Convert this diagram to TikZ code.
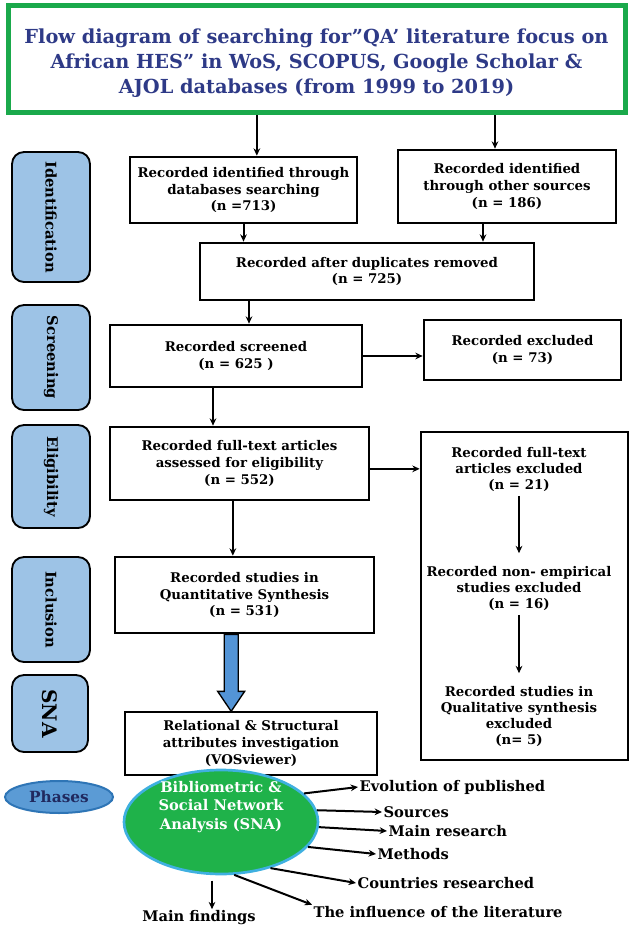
\documentclass[tikz,border=0pt]{standalone}
\usepackage{fontspec}
\setmainfont{DejaVu Serif}
\usetikzlibrary{arrows.meta,positioning,shapes.geometric,calc}
\definecolor{titlegreen}{HTML}{1AA94B}
\definecolor{titlenavy}{HTML}{2E3A87}
\definecolor{phaseblue}{HTML}{9DC3E6}
\definecolor{phasedark}{HTML}{5B9BD5}
\definecolor{phaseedge}{HTML}{2E75B6}
\definecolor{snagreen}{HTML}{1FB24A}
\definecolor{snaedge}{HTML}{3FB0E0}
\definecolor{fatblue}{HTML}{5394D6}

\begin{document}
\begin{tikzpicture}[x=0.75pt,y=-0.75pt,
  box/.style={draw, rectangle, line width=2pt, fill=white, align=center,
              font=\fontsize{10}{12.5}\selectfont\bfseries, inner sep=2pt},
  side/.style={draw, rectangle, rounded corners=9pt, line width=1.4pt,
               fill=phaseblue, rotate=-90, minimum height=58.5pt,
               font=\fontsize{11}{12}\selectfont\bfseries},
  outtxt/.style={anchor=west, inner sep=1pt,
                 font=\fontsize{11}{13}\selectfont\bfseries},
  arr/.style={-{Stealth[length=5.5pt,width=5pt]}, line width=1.5pt},
  fatarr/.style={draw=black, line width=1pt, fill=fatblue, line join=miter}
]
  \useasboundingbox (0,0) rectangle (632,929);

  %% Title
  \node[draw=titlegreen, line width=3.75pt, fill=white,
        minimum width=462.75pt, minimum height=80.25pt] (title) at (316.5,59) {};
  \node[align=center, text=titlenavy,
        font=\fontsize{14.5}{19}\selectfont\bfseries] (titletxt) at (316.5,63)
    {Flow diagram of searching for”QA’ literature focus on\\
     African HES” in WoS, SCOPUS, Google Scholar \&\\
     AJOL databases (from 1999 to 2019)};

  %% Phase labels
  \node[side, minimum width=97.5pt]  (ident)  at (51,217)   {Identification};
  \node[side, minimum width=78.75pt] (screen) at (51,357.5) {Screening};
  \node[side, minimum width=77.25pt] (elig)   at (51,476.5) {Eligibility};
  \node[side, minimum width=78.75pt] (incl)   at (51,609.5) {Inclusion};
  \node[side, minimum width=57.75pt, minimum height=57pt,
        font=\fontsize{15}{16}\selectfont\bfseries] (snaside) at (50,713.5) {SNA};
  \node[ellipse, draw=phaseedge, line width=1.5pt, fill=phasedark,
        minimum width=81pt, minimum height=24pt, text=titlenavy!70!black,
        font=\fontsize{11.5}{13}\selectfont\bfseries] (phases) at (59,797) {Phases};

  %% Identification
  \node[box, minimum width=170.25pt, minimum height=49.5pt] (db) at (243.5,190)
    {Recorded identified through\\databases searching\\(n =713)};
  \node[box, minimum width=163.5pt, minimum height=54.75pt] (other) at (507,186.5)
    {Recorded identified\\through other sources\\(n = 186)};
  \node[box, minimum width=250.5pt, minimum height=42.75pt] (dup) at (367,271.5)
    {Recorded after duplicates removed\\(n = 725)};

  %% Screening
  \node[box, minimum width=189pt, minimum height=46.5pt] (scr) at (236,356)
    {Recorded screened\\(n = 625 )};
  \node[box, minimum width=147.75pt, minimum height=45pt] (excl) at (522.5,350)
    {Recorded excluded\\(n = 73)};

  %% Eligibility
  \node[box, minimum width=194.25pt, minimum height=54.75pt] (full) at (239.5,463.5)
    {Recorded full-text articles\\assessed for eligibility\\(n = 552)};
  \node[box, minimum width=155.25pt, minimum height=246pt] (rbox) at (524.5,596) {};
  \node[align=center, font=\fontsize{10}{12}\selectfont\bfseries] (rb1) at (519,469)
    {Recorded full-text\\articles excluded\\(n = 21)};
  \node[align=center, font=\fontsize{10}{12}\selectfont\bfseries] (rb2) at (519,588)
    {Recorded non- empirical\\studies excluded\\(n = 16)};
  \node[align=center, font=\fontsize{10}{12}\selectfont\bfseries] (rb3) at (519,716)
    {Recorded studies in\\Qualitative synthesis\\excluded\\(n= 5)};

  %% Inclusion
  \node[box, minimum width=194.25pt, minimum height=57pt] (quant) at (244.5,595)
    {Recorded studies in\\Quantitative Synthesis\\(n = 531)};

  %% SNA
  \node[box, minimum width=189pt, minimum height=47.25pt] (vos) at (251,743.5)
    {Relational \& Structural\\attributes investigation\\(VOSviewer)};
  \node[ellipse, draw=snaedge, line width=2pt, fill=snagreen,
        minimum width=145.5pt, minimum height=78pt] (bsna) at (221,822) {};
  \node[align=center, text=white, font=\fontsize{11}{14}\selectfont\bfseries]
    (bsnatxt) at (221,807) {Bibliometric \&\\Social Network\\Analysis (SNA)};

  %% Outcomes
  \node[outtxt] (evo)   at (358,787) {Evolution of published};
  \node[outtxt] (src)   at (382,812) {Sources};
  \node[outtxt] (mres)  at (387,831) {Main research};
  \node[outtxt] (meth)  at (376,854) {Methods};
  \node[outtxt] (ctry)  at (356,883) {Countries researched};
  \node[outtxt] (infl)  at (312,912) {The influence of the literature};
  \node[outtxt, anchor=center] (mfind) at (199,918) {Main findings};

  %% Arrows
  \draw[arr] ([xshift=10pt]db.north |- title.south) -- ([xshift=10pt]db.north);
  \draw[arr] ([xshift=-9pt]other.north |- title.south) -- ([xshift=-9pt]other.north);
  \draw[arr] (db.south) -- (db.south |- dup.north);
  \draw[arr] ([xshift=-18pt]other.south) -- ([xshift=-18pt]other.south |- dup.north);
  \draw[arr] ([xshift=9.75pt]scr.north |- dup.south) -- ([xshift=9.75pt]scr.north);
  \draw[arr] (scr.east) -- (scr.east -| excl.west);
  \draw[arr] ([xshift=-17.25pt]scr.south) -- ([xshift=-17.25pt]scr.south |- full.north);
  \draw[arr] ([yshift=-4pt]full.east) -- ([yshift=-4pt]full.east -| rbox.west);
  \draw[arr] ([xshift=-5pt]full.south) -- ([xshift=-5pt]full.south |- quant.north);
  \draw[arr, shorten >=6pt] (rb1) -- (rb2);
  \draw[arr, shorten >=6pt] (rb2) -- (rb3);

  \coordinate (fa) at ([xshift=-10pt]quant.south);
  \draw[fatarr] (fa) ++(-5.25pt,0pt) -- ++(0pt,-42.75pt) -- ++(-4.875pt,0pt)
    -- ++(10.125pt,-15pt) -- ++(10.125pt,15pt) -- ++(-4.875pt,0pt)
    -- ++(0pt,42.75pt) -- cycle;

  \draw[arr] (bsna.19)  -- (evo.west);
  \draw[arr] (bsna.7)   -- (src.west);
  \draw[arr] (bsna.-3)  -- (mres.west);
  \draw[arr] (bsna.-16) -- (meth.west);
  \draw[arr] (bsna.-43) -- (ctry.west);
  \draw[arr] (bsna.-76) -- (infl.north west);
  \draw[arr] ([xshift=-6.75pt,yshift=-4pt]bsna.south)
    -- ([xshift=-6.75pt]bsna.south |- mfind.north);
\end{tikzpicture}
\end{document}
